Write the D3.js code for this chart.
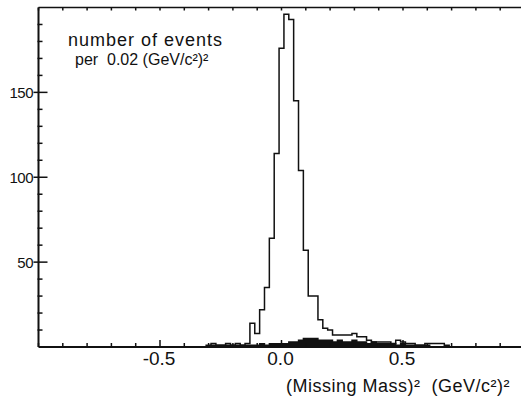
<!DOCTYPE html>
<html>
<head>
<meta charset="utf-8">
<script src="https://cdn.jsdelivr.net/npm/d3@7"></script>
<style>
  body { margin: 0; background: #fff; }
  svg text { font-family: "Liberation Sans", Arial, sans-serif; fill: #111; white-space: pre; }
</style>
</head>
<body>
<svg id="chart" width="521" height="400"></svg>
<script>
// bin centres, width 0.02 (GeV/c^2)^2
const binCentres = [-0.30, -0.28, -0.26, -0.24, -0.22, -0.20, -0.18, -0.16, -0.14, -0.12,
                    -0.10, -0.08, -0.06, -0.04, -0.02, 0.00, 0.02, 0.04, 0.06, 0.08,
                    0.10, 0.12, 0.14, 0.16, 0.18, 0.20, 0.22, 0.24, 0.26, 0.28,
                    0.30, 0.32, 0.34, 0.36, 0.38, 0.40, 0.42, 0.44, 0.46, 0.48,
                    0.50, 0.52, 0.54, 0.56, 0.58, 0.60, 0.62, 0.64, 0.66, 0.68];
const binWidth = 0.02;

// all events (open histogram)
const allEvents = [1, 2, 1, 1, 2, 1, 2, 1, 2, 14,
                   8, 22, 35, 64, 114, 176, 196, 193, 145, 104,
                   57, 30, 30, 16, 11, 10, 7, 7, 7, 7,
                   8, 6, 6, 4, 3, 3, 3, 3, 2, 4,
                   3, 2, 2, 1, 1, 2, 2, 2, 2, 1];

// background (filled histogram)
const background = [0, 1, 1, 1, 1, 1, 1, 1, 1, 1,
                    1, 2, 1, 2, 2, 2, 2, 3, 3, 4,
                    5, 5, 5, 4, 4, 4, 3, 4, 3, 3,
                    4, 3, 3, 2, 3, 2, 2, 2, 2, 1,
                    2, 1, 1, 1, 1, 1, 0, 0, 0, 0];

const xMajor = [-0.5, 0.0, 0.5];
const xMinor = [-1.0, -0.9, -0.8, -0.7, -0.6, -0.4, -0.3, -0.2, -0.1, 0.1, 0.2, 0.3, 0.4, 0.6, 0.7, 0.8, 0.9, 1.0];
const yMajor = [50, 100, 150];
const yMinor = [10, 20, 30, 40, 60, 70, 80, 90, 110, 120, 130, 140, 160, 170, 180, 190];

const svg = d3.select('#chart');
const x = d3.scaleLinear().domain([-1, 1]).range([38.5, 524.5]);
const y = d3.scaleLinear().domain([0, 200]).range([347, 7.5]);

function steps(counts) {
  let pts = [[binCentres[0] - binWidth / 2, 0]];
  counts.forEach((c, i) => pts.push([binCentres[i] - binWidth / 2, c]));
  let last = binCentres.length - 1;
  pts.push([binCentres[last] + binWidth / 2, counts[last]]);
  pts.push([binCentres[last] + binWidth / 2, 0]);
  return pts;
}

// filled background histogram
let area = d3.area()
  .x(d => x(d[0]))
  .y0(y(0))
  .y1(d => y(d[1]))
  .curve(d3.curveStepAfter);

svg.append('path')
  .datum(steps(background))
  .attr('d', area)
  .attr('fill', '#111')
  .attr('stroke', '#111')
  .attr('stroke-width', 1.4);

// open histogram
let line = d3.line()
  .x(d => x(d[0]))
  .y(d => y(d[1]))
  .curve(d3.curveStepAfter);

svg.append('path')
  .datum(steps(allEvents))
  .attr('d', line)
  .attr('fill', 'none')
  .attr('stroke', '#111')
  .attr('stroke-width', 1.5);

// frame
let frame = svg.append('g').attr('stroke', '#111').attr('stroke-width', 2);
frame.append('line').attr('x1', x(-1)).attr('x2', 521).attr('y1', y(0)).attr('y2', y(0));
frame.append('line').attr('x1', x(-1)).attr('x2', 521).attr('y1', y(200)).attr('y2', y(200)).attr('stroke-width', 1.6);
frame.append('line').attr('x1', x(-1)).attr('x2', x(-1)).attr('y1', y(0)).attr('y2', y(200));

let ticks = svg.append('g').attr('stroke', '#111').attr('stroke-width', 1.5);

// bottom ticks (inward)
ticks.selectAll('.xmin').data(xMinor).enter().append('line')
  .attr('x1', d => x(d)).attr('x2', d => x(d))
  .attr('y1', y(0)).attr('y2', y(0) - 4);
ticks.selectAll('.xmaj').data(xMajor).enter().append('line')
  .attr('x1', d => x(d)).attr('x2', d => x(d))
  .attr('y1', y(0) + 1).attr('y2', y(0) - 7);

// top ticks
ticks.selectAll('.xtop').data(xMinor.concat(xMajor)).enter().append('line')
  .attr('x1', d => x(d)).attr('x2', d => x(d))
  .attr('y1', y(200)).attr('y2', y(200) + 3);

// left ticks
ticks.selectAll('.ymin').data(yMinor).enter().append('line')
  .attr('x1', x(-1) - 1).attr('x2', x(-1) + 4)
  .attr('y1', d => y(d)).attr('y2', d => y(d));
ticks.selectAll('.ymaj').data(yMajor).enter().append('line')
  .attr('x1', x(-1) - 5).attr('x2', x(-1) + 9)
  .attr('y1', d => y(d)).attr('y2', d => y(d));

// tick labels
svg.selectAll('.xlab').data(xMajor).enter().append('text')
  .attr('x', d => x(d) - 1)
  .attr('y', 365)
  .attr('text-anchor', 'middle')
  .style('font-size', '19px')
  .text(d => d.toFixed(1));

svg.selectAll('.ylab').data(yMajor).enter().append('text')
  .attr('x', 33)
  .attr('y', d => y(d) + 5.5)
  .attr('text-anchor', 'end')
  .style('font-size', '15px')
  .style('letter-spacing', '-0.5px')
  .text(d => d);

// titles
svg.append('text')
  .attr('x', 68).attr('y', 46)
  .style('font-size', '18px')
  .style('letter-spacing', '1px')
  .text('number of events');

svg.append('text')
  .attr('x', 75).attr('y', 65)
  .style('font-size', '16px')
  .text('per  0.02 (GeV/c²)²');

svg.append('text')
  .attr('x', 286).attr('y', 392)
  .style('font-size', '18px')
  .style('letter-spacing', '0.5px')
  .text('(Missing Mass)²  (GeV/c²)²');
</script>
</body>
</html>
